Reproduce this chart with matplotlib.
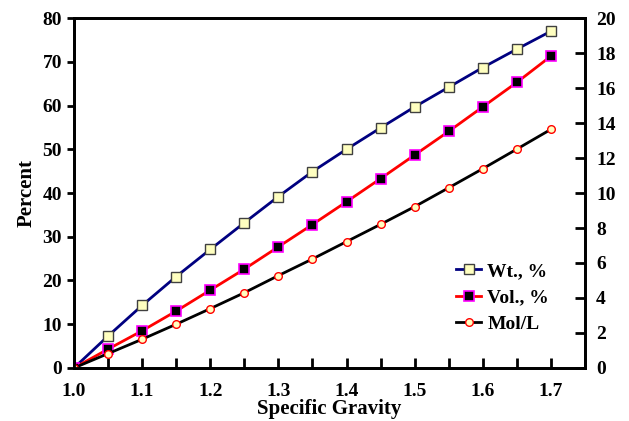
import matplotlib.pyplot as plt
import numpy as np

sg = [1.0, 1.05, 1.1, 1.15, 1.2, 1.25, 1.3, 1.35, 1.4, 1.45, 1.5, 1.55, 1.6, 1.65, 1.7]
wt = [0, 7.3, 14.3, 20.9, 27.1, 33.2, 39.2, 44.9, 50.0, 54.9, 59.7, 64.2, 68.7, 72.9, 77.0]
vol = [0, 4.3, 8.5, 13.0, 17.8, 22.6, 27.7, 32.8, 38.0, 43.3, 48.7, 54.1, 59.7, 65.3, 71.3]
mol = [0, 0.82, 1.64, 2.5, 3.39, 4.3, 5.28, 6.23, 7.22, 8.21, 9.22, 10.3, 11.39, 12.51, 13.64]

plt.rcParams['font.family'] = 'Liberation Serif'
plt.rcParams['font.weight'] = 'bold'

fig = plt.figure(figsize=(6.29, 4.21), dpi=100)
ax = fig.add_axes([0.1176, 0.126, 0.8124, 0.831])
ax2 = ax.twinx()

l1, = ax.plot(sg, wt, color='#000080', lw=2, marker='s', ms=6.5, mfc='#FFFFC0',
              mec='#404040', mew=1, label='Wt., %')
l2, = ax.plot(sg, vol, color='#FF0000', lw=2, marker='s', ms=6.5, mfc='black',
              mec='#FF00FF', mew=1.2, label='Vol., %')
l3, = ax2.plot(sg, mol, color='black', lw=2, marker='o', ms=5.5, mfc='#FFFFC0',
               mec='#FF0000', mew=1, label='Mol/L')

ax.set_xlim(1.0, 1.75)
ax.set_ylim(0, 80)
ax2.set_ylim(0, 20)
ax.set_xticks(np.arange(1.0, 1.71, 0.1))
ax.set_xticks(np.arange(1.05, 1.76, 0.1), minor=True)
ax.set_yticks(range(0, 81, 10))
ax2.set_yticks(range(0, 21, 2))

for a in (ax, ax2):
    for s in a.spines.values():
        s.set_linewidth(2)
ax.tick_params(axis='x', direction='in', length=7, width=2, labelsize=14, pad=11)
ax.tick_params(axis='x', which='minor', direction='in', length=7, width=2)
ax.tick_params(axis='y', direction='out', length=5, width=2, labelsize=14)
ax2.tick_params(axis='y', direction='in', length=7, width=2, labelsize=14, pad=8)

ax.set_xlabel('Specific Gravity', fontsize=15, fontweight='bold', labelpad=-1)
ax.set_ylabel('Percent', fontsize=15, fontweight='bold', labelpad=4)

ax2.legend(handles=[l1, l2, l3], loc='lower right', bbox_to_anchor=(0.964, 0.05),
           frameon=False, fontsize=14, handlelength=1.3, handletextpad=0.3,
           labelspacing=0.45)

fig.savefig('out.png', dpi=100)
